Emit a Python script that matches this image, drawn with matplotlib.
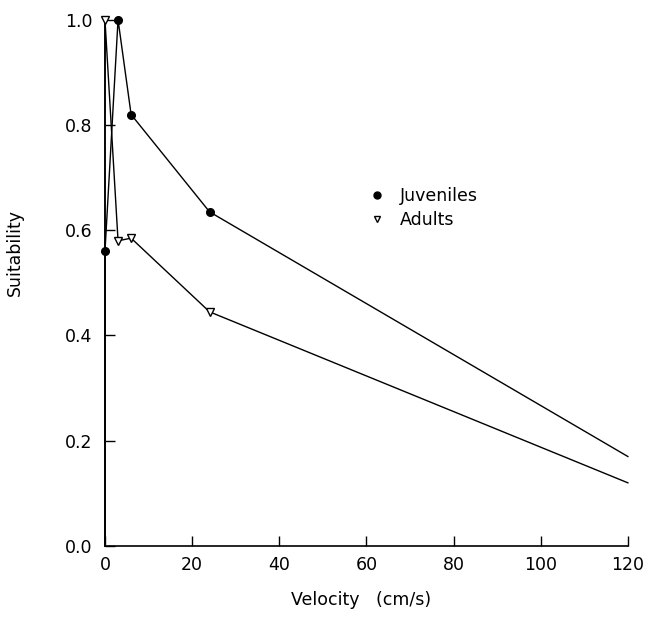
import matplotlib
matplotlib.use("Agg")
import matplotlib.pyplot as plt
from matplotlib.lines import Line2D

# velocity (cm/s) and suitability
vel_juv = [0, 0, 3, 6, 24, 120]
suit_juv = [0, 0.56, 1.0, 0.82, 0.635, 0.17]
vel_adult = [0, 0, 3, 6, 24, 120]
suit_adult = [0, 1.0, 0.58, 0.585, 0.445, 0.12]

xticks = [0, 20, 40, 60, 80, 100, 120]
yticks = [0.0, 0.2, 0.4, 0.6, 0.8, 1.0]

plt.rcParams['font.family'] = ['DejaVu Sans']

fig = plt.figure(figsize=(6.52, 6.19), dpi=100)
ax = fig.add_axes([0.161, 0.118, 0.802, 0.850])

ax.plot(vel_juv, suit_juv, color="black", lw=1, marker="o", ms=5.5,
        markevery=[1, 2, 3, 4], clip_on=False, zorder=3)
ax.plot(vel_adult, suit_adult, color="black", lw=1, marker="v", ms=5.5,
        mfc="white", mec="black", markevery=[1, 2, 3, 4], clip_on=False, zorder=3)

ax.set_xlim(0, 120)
ax.set_ylim(0, 1.0)
ax.set_xticks(xticks)
ax.set_yticks(yticks)
ax.set_yticklabels([f"{v:.1f}" for v in yticks])
ax.tick_params(direction="in", length=7, width=1, labelsize=12.5, colors="black")
ax.tick_params(axis="x", pad=7)
ax.tick_params(axis="y", pad=9)

for s in ["top", "right"]:
    ax.spines[s].set_visible(False)
for s in ["left", "bottom"]:
    ax.spines[s].set_linewidth(1.2)

ax.set_xlabel("Velocity   (cm/s)", fontsize=12.5)
ax.set_ylabel("Suitability", fontsize=12.5)
ax.xaxis.set_label_coords(0.49, -0.085)
ax.yaxis.set_label_coords(-0.155, 0.557)

handles = [Line2D([], [], ls="none", marker="o", color="black", ms=5),
           Line2D([], [], ls="none", marker="v", mfc="white", mec="black", ms=5)]
ax.legend(handles, ["Juveniles", "Adults"], frameon=False, fontsize=12.5,
          loc="upper left", bbox_to_anchor=(0.49, 0.695), handlelength=1.0,
          handletextpad=0.8, labelspacing=0.35, borderaxespad=0)

fig.savefig("out.png", dpi=100, facecolor="white")
